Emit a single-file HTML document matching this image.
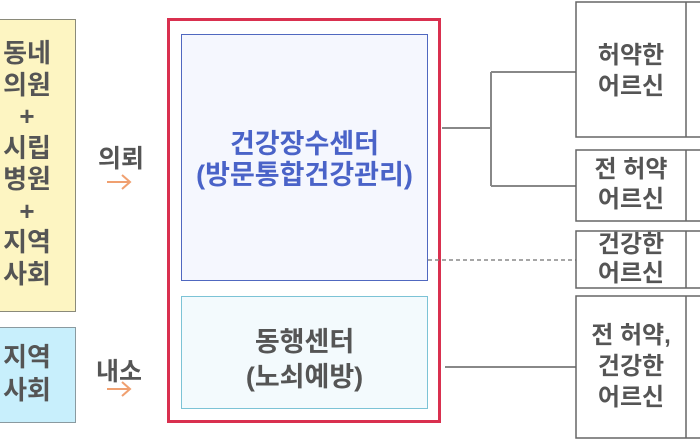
<!DOCTYPE html>
<html><head><meta charset="utf-8"><style>
body{margin:0;width:700px;height:440px;background:#fff;position:relative;overflow:hidden;font-family:"Liberation Sans","Noto Sans CJK KR",sans-serif;}
.a{position:absolute;box-sizing:border-box;}
.t{position:absolute;text-align:center;white-space:nowrap;font-weight:bold;}
</style></head><body>
<div class="a" style="left:-4px;top:19px;width:80px;height:293px;background:#fdf5c2;border:1.5px solid #8a8a7a;"></div>
<div class="t" style="left:0;width:54px;top:38px;font-size:26px;line-height:31.5px;color:#555;">동네<br>의원<br>+<br>시립<br>병원<br>+<br>지역<br>사회</div>
<div class="a" style="left:-4px;top:327px;width:80px;height:96px;background:#c8effc;border:1.5px solid #8a9aa0;"></div>
<div class="t" style="left:0;width:54px;top:341px;font-size:26px;line-height:33px;color:#555;">지역<br>사회</div>
<div class="t" style="left:93px;width:56px;top:139px;font-size:25px;color:#555;">의뢰</div>
<div class="t" style="left:91px;width:56px;top:352px;font-size:25px;color:#555;">내소</div>
<div class="a" style="left:167px;top:18px;width:274px;height:405px;border:3px solid #d9304f;"></div>
<div class="a" style="left:181px;top:34px;width:247px;height:247px;background:#f5f7fe;border:1.5px solid #5068c0;"></div>
<div class="t" style="left:181px;width:247px;top:129px;font-size:27px;line-height:31px;color:#4a63c8;">건강장수센터<br>(방문통합건강관리)</div>
<div class="a" style="left:181px;top:296px;width:247px;height:113px;background:#f3fafd;border:1.5px solid #7cc3d6;"></div>
<div class="t" style="left:181px;width:247px;top:325px;font-size:27px;line-height:35px;color:#555;">동행센터<br>(노쇠예방)</div>
<svg class="a" style="left:0;top:0" width="700" height="440">
<g stroke="#f0a070" stroke-width="2" fill="none">
<path d="M107 182H130M122 175L130 182L122 189"/>
<path d="M107 389H130M122 382L130 389L122 396"/>
</g>
<g stroke="#888" stroke-width="2" fill="none">
<path d="M442 128H491M491 72V186M491 72H576M491 186H576M445 367H576"/>
<path d="M428 260H576" stroke-dasharray="4 3" stroke-width="1.5"/>
<path d="M686 72H700M686 367H700"/>
</g>
<g stroke="#666" stroke-width="1.5" fill="#fff">
<rect x="576" y="2" width="130" height="135"/>
<rect x="576" y="150" width="130" height="71"/>
<rect x="576" y="231" width="130" height="57"/>
<rect x="576" y="296" width="130" height="142"/>
<path d="M686 2V137M686 150V221M686 231V288M686 296V438"/>
</g>
</svg>
<div class="t" style="left:576px;width:110px;top:40px;font-size:24px;line-height:31px;color:#555;">허약한<br>어르신</div>
<div class="t" style="left:576px;width:110px;top:155px;font-size:24px;line-height:30px;color:#555;">전 허약<br>어르신</div>
<div class="t" style="left:576px;width:110px;top:230px;font-size:24px;line-height:29px;color:#555;">건강한<br>어르신</div>
<div class="t" style="left:576px;width:110px;top:320px;font-size:24px;line-height:31px;color:#555;">전 허약,<br>건강한<br>어르신</div>
</body></html>
